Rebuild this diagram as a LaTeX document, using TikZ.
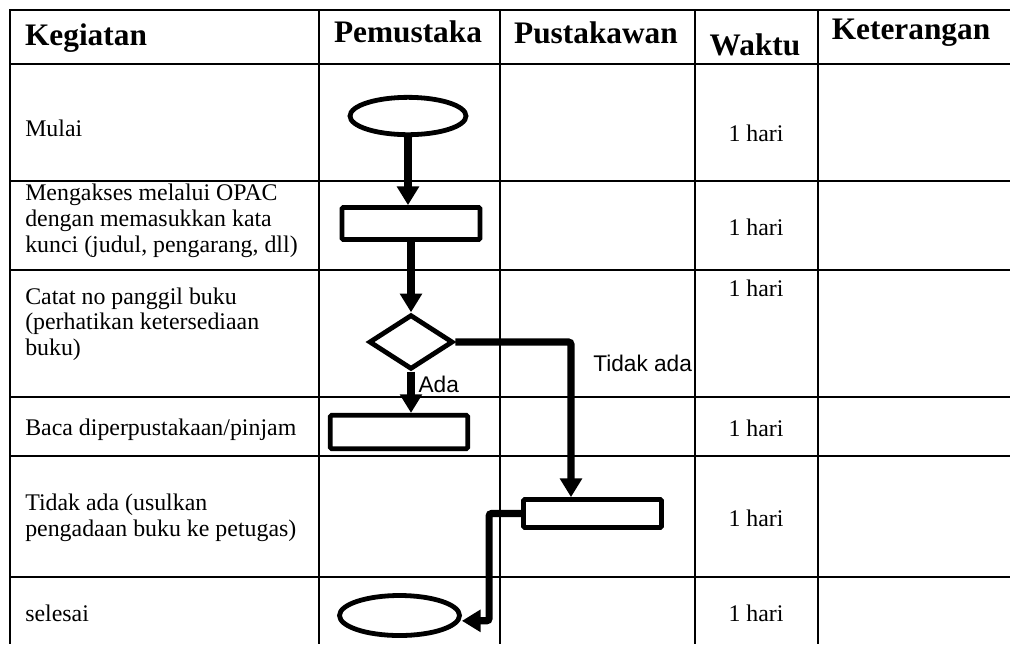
\documentclass[tikz,border=0pt]{standalone}
\usepackage{fontspec}
\setmainfont{Liberation Serif}
\newfontfamily\arialfont{Liberation Sans}
\usetikzlibrary{positioning,arrows.meta,shapes.geometric}

\begin{document}
\begin{tikzpicture}[x=0.75pt, y=-0.75pt, >={Triangle[width=16pt,length=14pt]},
    grid/.style={line width=1.5pt},
    hd/.style={font=\fontsize{23.5}{26}\selectfont\bfseries, inner sep=0pt},
    txt/.style={font=\fontsize{17.9}{19.3}\selectfont, align=left, inner sep=0pt, anchor=west},
    wk/.style={font=\fontsize{17.9}{19.3}\selectfont, inner sep=0pt},
    term/.style={draw, ellipse, line width=3.6pt, inner sep=0pt},
    proc/.style={draw, line width=3.6pt, rounded corners=1pt, inner sep=0pt},
    dec/.style={draw, diamond, line width=3.6pt, inner sep=0pt},
    flow/.style={->, line width=5.4pt, rounded corners=2pt},
    lbl/.style={font=\arialfont\fontsize{17}{19}\selectfont, inner sep=0pt}]
    \useasboundingbox (0,0) rectangle (1010,644);

    % table
    \foreach \y in {10,64,181,270,397,456,577} \draw[grid] (9,\y) -- (1010,\y);
    \foreach \x in {10,319,500,695,818} \draw[grid] (\x,9) -- (\x,644);

    \node[hd] (hkeg) at (86,38)  {Kegiatan};
    \node[hd] (hpem) at (408,32) {Pemustaka};
    \node[hd] (hpus) at (596,33) {Pustakawan};
    \node[hd] (hwak) at (755,45) {Waktu};
    \node[hd] (hket) at (911,33) {Keterangan};

    \node[txt] (k1) at (25,128) {Mulai};
    \node[txt] (k2) at (25,221) {Mengakses melalui OPAC\\dengan memasukkan kata\\kunci (judul, pengarang, dll)};
    \node[txt] (k3) at (25,324) {Catat no panggil buku\\(perhatikan ketersediaan\\buku)};
    \node[txt] (k4) at (25,430) {Baca diperpustakaan/pinjam};
    \node[txt] (k5) at (25,518) {Tidak ada (usulkan\\pengadaan buku ke petugas)};
    \node[txt] (k6) at (25,613) {selesai};
    \foreach \y [count=\i] in {133,227,288,428,518,613} \node[wk] (w\i) at (756,\y) {1 hari};

    % flow
    \node[term, minimum width=87pt, minimum height=28pt] (start) at (408,116) {};
    \node[proc, minimum width=103.5pt, minimum height=24pt] (r1) at (411,223.5) {};
    \node[dec, minimum width=63pt, minimum height=41pt] (dia) at (411,342) {};
    \node[proc, minimum width=103pt, minimum height=25pt] (r2) at (399,432) {};
    \node[proc, minimum width=103.5pt, minimum height=21pt] (r3) at (592.5,513.5) {};
    \node[term, minimum width=90pt, minimum height=30pt] (fin) at (399.5,615.5) {};
    \coordinate (tx) at (571,346);

    \draw[flow] (start.south) -- (start.south |- r1.north);
    \draw[flow] (dia.north |- r1.south) -- (dia.north);
    \draw[flow] (dia.south) -- node[lbl, pos=0.3, right=3pt] {Ada} (dia.south |- r2.north);
    \draw[flow] (dia.east) -| node[lbl, pos=0.57, right=14pt] {Tidak ada} (tx |- r3.north);
    \draw[flow] (r3.west) -- ++(-32,0) |- ([yshift=-4pt]fin.east);
\end{tikzpicture}
\end{document}
